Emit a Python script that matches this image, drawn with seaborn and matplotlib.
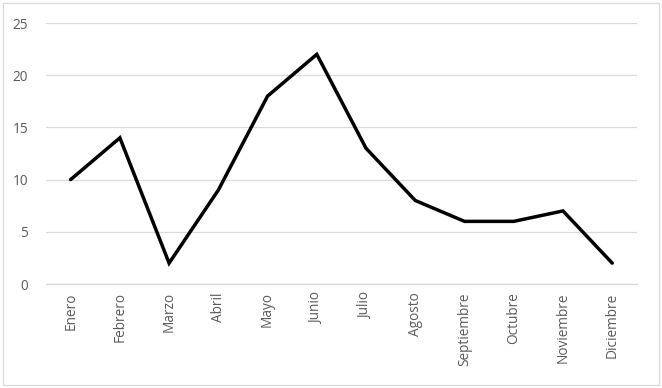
import matplotlib
matplotlib.use("Agg")
import matplotlib.pyplot as plt
import seaborn as sns
import pandas as pd
from matplotlib.patches import Rectangle

# data
meses = ["Enero", "Febrero", "Marzo", "Abril", "Mayo", "Junio", "Julio",
         "Agosto", "Septiembre", "Octubre", "Noviembre", "Diciembre"]
valores = [10, 14, 2, 9, 18, 22, 13, 8, 6, 6, 7, 2]
y_ticks = [0, 5, 10, 15, 20, 25]

df = pd.DataFrame({"mes": meses, "valor": valores})

sns.set_style("white")
plt.rcParams["font.family"] = ["Open Sans", "DejaVu Sans"]

fig = plt.figure(figsize=(6.62, 3.88), dpi=100)
ax = fig.add_axes([0.0695, 0.268, 0.8925, 0.6727])

sns.lineplot(data=df, x="mes", y="valor", sort=False, color="black",
             linewidth=2.5, ax=ax, solid_joinstyle="miter", solid_capstyle="round")

ax.set_xlim(-0.5, len(meses) - 0.5)
ax.set_ylim(0, 25)
ax.set_yticks(y_ticks)
ax.grid(axis="y", color="#d9d9d9", linewidth=0.9)
ax.set_axisbelow(True)
for s in ["top", "right", "left"]:
    ax.spines[s].set_visible(False)
ax.spines["bottom"].set_color("#d9d9d9")
ax.spines["bottom"].set_linewidth(0.9)
ax.tick_params(axis="both", length=0, colors="#595959", labelsize=9.8)
ax.tick_params(axis="y", pad=13)
ax.tick_params(axis="x", pad=6)
plt.setp(ax.get_xticklabels(), rotation=90)
ax.set_xlabel("")
ax.set_ylabel("")

# outer chart border
fig.patches.append(Rectangle((0.005, 0.008), 0.99, 0.984, transform=fig.transFigure,
                             fill=False, edgecolor="#d9d9d9", linewidth=0.9))

fig.savefig("out.png", dpi=100)
